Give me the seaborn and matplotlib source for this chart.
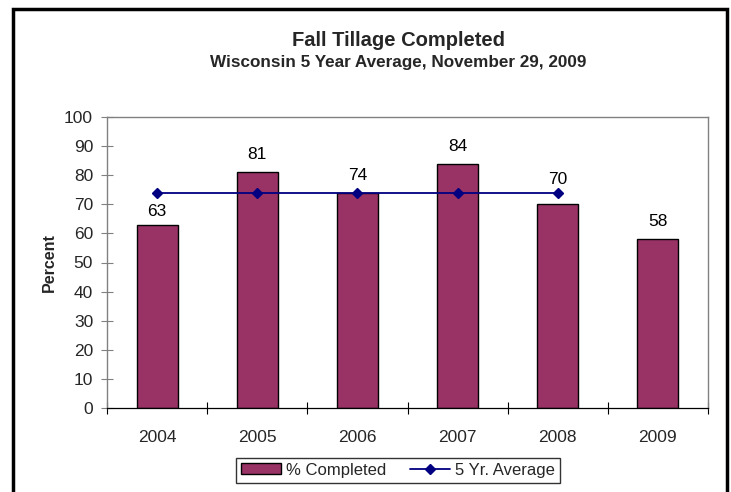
import matplotlib
matplotlib.use("Agg")
import matplotlib.pyplot as plt
import seaborn as sns
import numpy as np
import pandas as pd
from matplotlib.patches import Rectangle
from matplotlib.lines import Line2D
from matplotlib.patches import Patch

years = ["2004", "2005", "2006", "2007", "2008", "2009"]
completed = [63, 81, 74, 84, 70, 58]
avg_years = ["2004", "2005", "2006", "2007", "2008"]
five_yr_avg = [74, 74, 74, 74, 74]

# vertical offset (points) of each data label above its bar
label_offsets = [9.5, 12.5, 12.5, 12.5, 18.0, 12.5]

sns.set_theme(style="white")
plt.rcParams['font.family'] = ['Liberation Sans', 'DejaVu Sans']

BAR = "#993366"
NAVY = "#000080"
GRAY = "#808080"

fig = plt.figure(figsize=(7.31, 4.92), dpi=100)
ax = fig.add_axes([107/731, 1-408/492, (708-107)/731, (408-117)/492])

df = pd.DataFrame({"Year": years, "Completed": completed})
sns.barplot(data=df, x="Year", y="Completed", color=BAR, edgecolor="black",
            linewidth=1.0, width=0.41, saturation=1, ax=ax)

pos = [years.index(y) for y in avg_years]
ax.plot(pos, five_yr_avg, color=NAVY, lw=1.3, marker="D", markersize=5,
        markerfacecolor=NAVY, markeredgecolor=NAVY, zorder=5)

for i, v in enumerate(completed):
    ax.annotate(str(v), (i, v), xytext=(0, label_offsets[i]),
                textcoords="offset points",
                ha="center", va="center", fontsize=12.5, color="black")

ax.set_xlim(-0.5, len(years) - 0.5)
ax.set_ylim(0, 100)
ax.set_yticks(np.arange(0, 101, 10))
ax.set_xticks(np.arange(len(years)))
ax.set_xticklabels(years)
ax.set_xticks(np.arange(-0.5, len(years)), minor=True)
ax.tick_params(axis="x", which="major", length=0, labelsize=12.5, pad=16)
ax.tick_params(axis="x", which="minor", direction="inout", length=8, width=0.8,
               color="black", bottom=True)
ax.tick_params(axis="y", direction="inout", length=8, width=0.8, color=GRAY,
               labelsize=12.5, pad=6, left=True)
ax.set_xlabel("")
ax.set_ylabel("Percent", fontsize=11.5, fontweight="bold", labelpad=5)

for s in ["top", "right", "left"]:
    ax.spines[s].set_color(GRAY)
    ax.spines[s].set_linewidth(1.0)
ax.spines["bottom"].set_color("black")
ax.spines["bottom"].set_linewidth(0.9)

fig.text(398/731, 1-40/492, "Fall Tillage Completed", ha="center", va="center",
         fontsize=14.5, fontweight="bold")
fig.text(398/731, 1-62/492, "Wisconsin 5 Year Average, November 29, 2009",
         ha="center", va="center", fontsize=12.3, fontweight="bold")

handles = [Patch(facecolor=BAR, edgecolor="black", linewidth=1.0),
           Line2D([0], [0], color=NAVY, lw=1.3, marker="D", markersize=5)]
leg = fig.legend(handles, ["% Completed", "5 Yr. Average"], ncol=2,
                 loc="center", bbox_to_anchor=(398/731, 1-470/492),
                 frameon=True, fancybox=False, fontsize=12,
                 handlelength=2.4, handleheight=0.6, columnspacing=1.4,
                 handletextpad=0.3, borderpad=0.3)
leg.get_frame().set_edgecolor("black")
leg.get_frame().set_linewidth(1.0)

fig.patches.append(Rectangle((12.5/731, -0.05), (727-12.5)/731, 1.05 - 9/492,
                             transform=fig.transFigure, fill=False,
                             edgecolor="black", linewidth=2.5))

fig.savefig("out.png", dpi=100)
